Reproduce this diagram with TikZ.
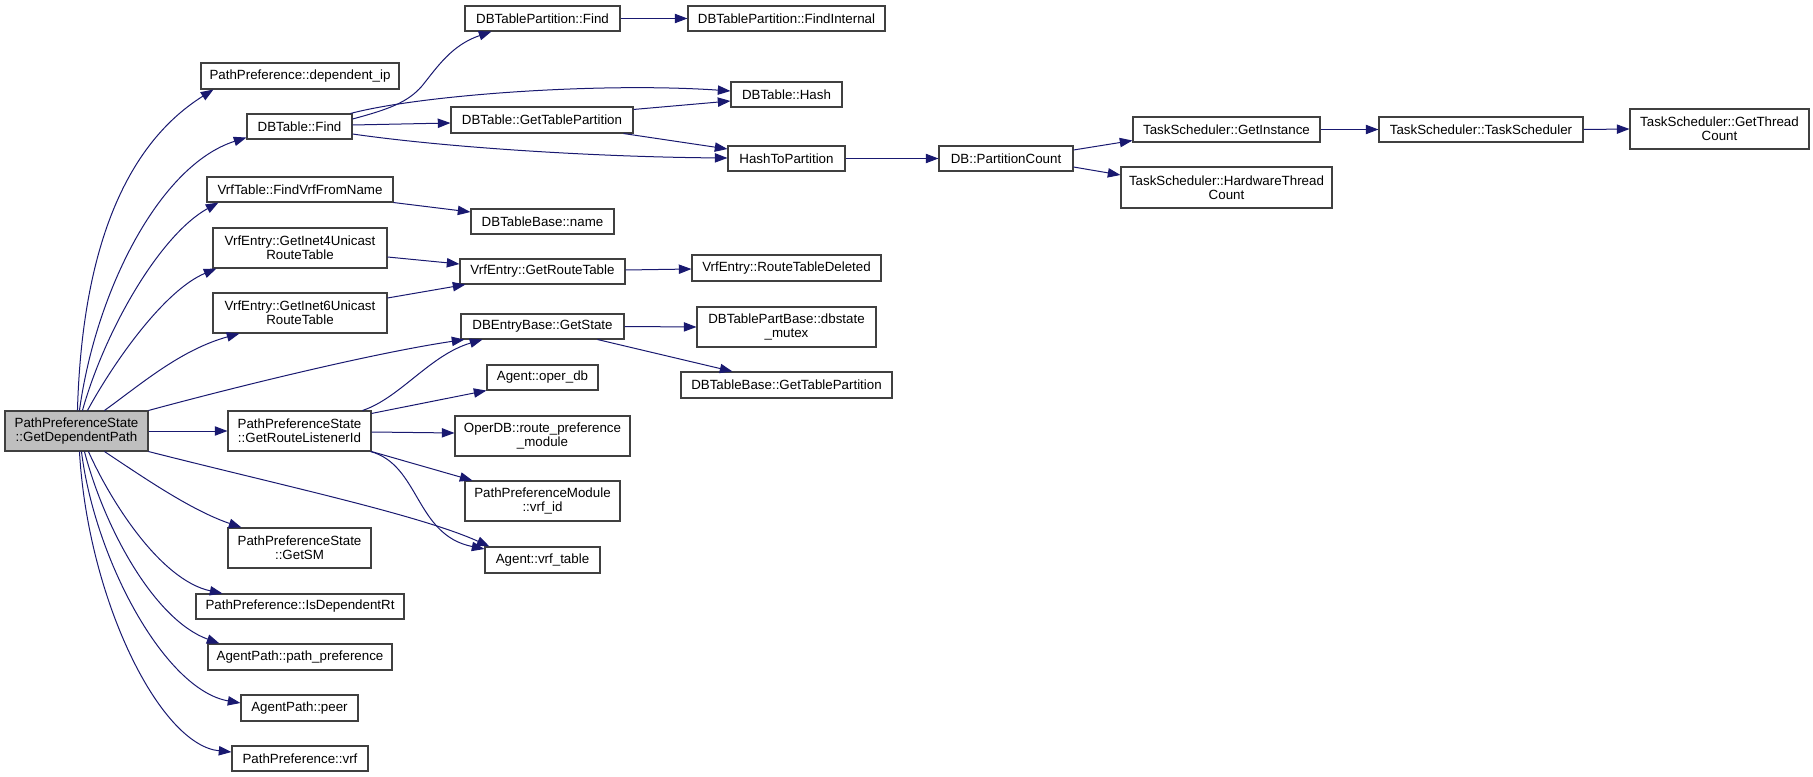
\documentclass[tikz,border=0pt]{standalone}
\usepackage{fontspec}
\setmainfont{Liberation Sans}
\usetikzlibrary{arrows.meta,calc}
\definecolor{edgec}{HTML}{191970}
\definecolor{bordc}{HTML}{404040}
\definecolor{rootc}{HTML}{BFBFBF}
\tikzset{
 gbox/.style={draw=bordc, line width=0.8pt, fill=white, rectangle, inner sep=0pt, align=center, font=\fontsize{10}{10.8}\selectfont, text=black},
 rootbox/.style={fill=rootc},
 edge/.style={draw=edgec, line width=0.75pt, -{Triangle[length=9.5pt,width=7pt]}},
}
\newcommand\gvnode[7][]{\node[gbox,#1,minimum width={(#5-#3)*0.75pt},minimum height={(#6-#4)*0.75pt}] (#2) at ({(#3+#5)/2},{(#4+#6)/2}) {#7};}
\begin{document}
\begin{tikzpicture}[x=0.75pt,y=-0.75pt]
\useasboundingbox (0,0) rectangle (1813,777);
\gvnode[rootbox]{main}{5}{411}{148}{451}{PathPreferenceState\\::GetDependentPath}
\gvnode{dip}{201}{63}{399}{89}{PathPreference::dependent\_ip}
\gvnode{dbfind}{247}{114}{352}{139}{DBTable::Find}
\gvnode{fvfn}{207}{177}{393}{202}{VrfTable::FindVrfFromName}
\gvnode{gi4}{213}{228}{387}{268}{VrfEntry::GetInet4Unicast\\RouteTable}
\gvnode{gi6}{213}{293}{387}{333}{VrfEntry::GetInet6Unicast\\RouteTable}
\gvnode{grli}{228}{411}{371}{451}{PathPreferenceState\\::GetRouteListenerId}
\gvnode{gsm}{228}{528}{371}{568}{PathPreferenceState\\::GetSM}
\gvnode{idr}{196}{594}{404}{619}{PathPreference::IsDependentRt}
\gvnode{app}{208}{644}{392}{670}{AgentPath::path\_preference}
\gvnode{peer}{241}{695}{358}{721}{AgentPath::peer}
\gvnode{vrf}{232}{746}{368}{771}{PathPreference::vrf}
\gvnode{dtpf}{465}{6}{620}{31}{DBTablePartition::Find}
\gvnode{dtpfi}{688}{6}{885}{31}{DBTablePartition::FindInternal}
\gvnode{hash}{731}{82}{842}{107}{DBTable::Hash}
\gvnode{gtp}{451}{107}{633}{133}{DBTable::GetTablePartition}
\gvnode{htp}{728}{146}{845}{171}{HashToPartition}
\gvnode{name}{471}{209}{614}{234}{DBTableBase::name}
\gvnode{grt}{460}{259}{625}{284}{VrfEntry::GetRouteTable}
\gvnode{rtd}{692}{255}{881}{281}{VrfEntry::RouteTableDeleted}
\gvnode{gst}{461}{314}{624}{339}{DBEntryBase::GetState}
\gvnode{dbm}{697}{307}{876}{347}{DBTablePartBase::dbstate\\\_mutex}
\gvnode{odb}{487}{365}{598}{390}{Agent::oper\_db}
\gvnode{btp}{681}{372}{892}{398}{DBTableBase::GetTablePartition}
\gvnode{rpm}{455}{416}{630}{456}{OperDB::route\_preference\\\_module}
\gvnode{vid}{465}{481}{620}{521}{PathPreferenceModule\\::vrf\_id}
\gvnode{vtab}{485}{547}{600}{573}{Agent::vrf\_table}
\gvnode{pc}{939}{146}{1073}{171}{DB::PartitionCount}
\gvnode{gin}{1133}{117}{1320}{142}{TaskScheduler::GetInstance}
\gvnode{ts}{1379}{117}{1583}{142}{TaskScheduler::TaskScheduler}
\gvnode{gtc}{1630}{109}{1809}{149}{TaskScheduler::GetThread\\Count}
\gvnode{htc}{1121}{167}{1332}{208}{TaskScheduler::HardwareThread\\Count}
% edges from root, top side
\draw[edge] ($(main.north west)+(73,0)$) .. controls (82,250) and (125,145) .. ($(dip.south west)+(13,0)$);
\draw[edge] ($(main.north west)+(75,0)$) .. controls (96,290) and (160,165) .. ($(dbfind.south west)+(0,-2)$);
\draw[edge] ($(main.north west)+(78,0)$) .. controls (105,330) and (160,235) .. ($(fvfn.south west)+(12,0)$);
\draw[edge] ($(main.north west)+(83,0)$) .. controls (115,360) and (165,290) .. ($(gi4.south west)+(4,0)$);
\draw[edge] ($(main.north west)+(100,0)$) .. controls (140,385) and (180,350) .. ($(gi6.south west)+(27,0)$);
\draw[edge] (main.north east) .. controls (250,383) and (380,352) .. ($(gst.south west)+(4,0)$);
\draw[edge] (main.east) -- (grli.west);
\draw[edge] (main.south east) .. controls (280,485) and (420,515) .. ($(vtab.north west)+(5,0)$);
% edges from root, bottom side
\draw[edge] ($(main.south west)+(100,0)$) .. controls (140,475) and (190,510) .. ($(gsm.north west)+(14,0)$);
\draw[edge] ($(main.south west)+(84,0)$) .. controls (110,500) and (160,580) .. ($(idr.north west)+(27,0)$);
\draw[edge] ($(main.south west)+(80,0)$) .. controls (105,530) and (155,620) .. ($(app.north west)+(12,0)$);
\draw[edge] ($(main.south west)+(77,0)$) .. controls (95,560) and (165,690) .. ($(peer.west)+(0,-5)$);
\draw[edge] ($(main.south west)+(75,0)$) .. controls (88,600) and (160,745) .. ($(vrf.west)+(0,-6.5)$);
% DBTable::Find
\draw[edge] ($(dbfind.east)+(0,-7.5)$) .. controls (390,109) and (408,102) .. (422,86) .. controls (438,66) and (452,45) .. ($(dtpf.south west)+(27,0)$);
\draw[edge] ($(dbfind.north east)+(-2,0)$) .. controls (420,95) and (600,82) .. ($(hash.west)+(0,-3.5)$);
\draw[edge] ($(dbfind.east)+(0,-1.5)$) -- ($(gtp.west)+(0,3)$);
\draw[edge] ($(dbfind.east)+(0,7.5)$) .. controls (450,148) and (600,157) .. ($(htp.west)+(0,-0.5)$);
\draw[edge] ($(gtp.north east)+(0,3)$) -- ($(hash.west)+(0,6.5)$);
\draw[edge] ($(gtp.south east)+(-10,0)$) -- ($(htp.west)+(0,-9.5)$);
\draw[edge] (htp.east) -- (pc.west);
\draw[edge] ($(pc.east)+(0,-8.5)$) -- ($(gin.south west)+(0,-2)$);
\draw[edge] ($(pc.east)+(0,8.5)$) -- ($(htc.west)+(0,-12.5)$);
\draw[edge] (gin.east) -- (ts.west);
\draw[edge] (ts.east) -- (gtc.west);
\draw[edge] (dtpf.east) -- (dtpfi.west);
\draw[edge] (fvfn.south east) -- ($(name.west)+(0,-9.5)$);
\draw[edge] ($(gi4.east)+(0,9)$) -- ($(grt.west)+(0,-7.5)$);
\draw[edge] ($(gi6.east)+(0,-15)$) -- ($(grt.south west)+(6,0)$);
\draw[edge] ($(grt.east)+(0,-1.5)$) -- ($(rtd.west)+(0,1)$);
\draw[edge] (gst.east) -- (dbm.west);
\draw[edge] ($(gst.south east)+(-27,0)$) -- ($(btp.north west)+(52,0)$);
% GetRouteListenerId
\draw[edge] ($(grli.north east)+(-9,0)$) .. controls (400,398) and (430,355) .. ($(gst.south west)+(22,0)$);
\draw[edge] ($(grli.north east)+(0,3)$) -- (odb.south west);
\draw[edge] ($(grli.east)+(0,1)$) -- ($(rpm.west)+(0,-3)$);
\draw[edge] (grli.south east) -- ($(vid.north west)+(8,0)$);
\draw[edge] ($(grli.south east)+(-1,0)$) .. controls (420,465) and (415,535) .. ($(vtab.west)+(0,-11)$);
\end{tikzpicture}
\end{document}
